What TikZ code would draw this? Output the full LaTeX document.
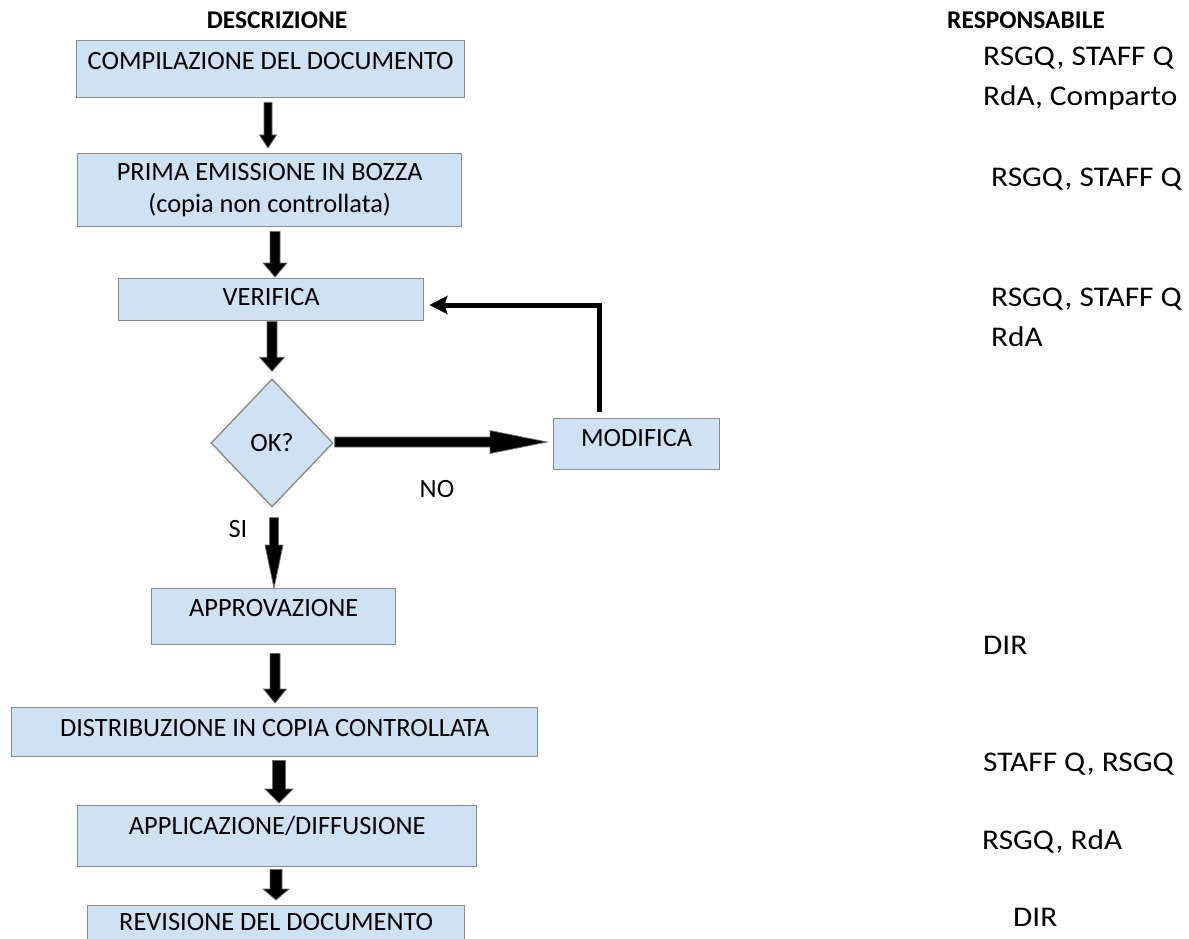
\documentclass[tikz,border=0pt]{standalone}
\usepackage{fontspec}
\setmainfont{Carlito}
\newfontfamily\respfont[FakeStretch=1.1]{Carlito}
\usetikzlibrary{shapes.geometric,arrows.meta,calc}
\definecolor{boxfill}{RGB}{207,226,243}
\definecolor{boxline}{RGB}{140,140,140}
\definecolor{arrline}{RGB}{110,110,110}
\tikzset{
  txt/.style={font=\fontsize{26.4}{32}\selectfont, inner sep=0pt},
  hdr/.style={font=\bfseries\fontsize{25.5}{30}\selectfont, inner sep=0pt},
  box/.style={draw=boxline, fill=boxfill, line width=1.4pt, inner xsep=0pt, inner ysep=0pt, txt, anchor=north west},
  decision/.style={diamond, draw=boxline, fill=boxfill, line width=1.4pt, inner sep=0pt, txt},
  blockarrow/.style={fill=black, draw=arrline, line width=0.8pt, line join=miter},
  loopline/.style={line width=5pt, line join=miter, -{Stealth[length=18pt,width=18pt,inset=3pt]}},
  resp/.style={font=\respfont\fontsize{28.5}{34}\selectfont, inner sep=0pt, anchor=base west},
}
% box: name, left, top, right, bottom, baseline, text
\newcommand\flowbox[7]{%
  \pgfmathsetmacro\bxw{#4-#2}%
  \pgfmathsetmacro\bxth{#6-#3}%
  \pgfmathsetmacro\bxtd{#5-#6}%
  \node[box, minimum width=\bxw pt, text height=\bxth pt, text depth=\bxtd pt] (#1) at (#2,#3) {#7};}
% vertical block arrow: from, to, x, gap top, gap bottom, shaft half, head half, head length
\newcommand\varrow[8]{%
  \filldraw[blockarrow] let \p1=(#1.south), \p2=(#2.north),
    \n1={\y1-(#4)*1pt}, \n2={\y2+(#5)*1pt}, \n3={\y2+(#5)*1pt+(#8)*1pt} in
    ({(#3-#6)*1pt},{\n1*1pt}) -- ({(#3+#6)*1pt},{\n1*1pt}) -- ({(#3+#6)*1pt},{\n3*1pt})
    -- ({(#3+#7)*1pt},{\n3*1pt}) -- ({(#3)*1pt},{\n2*1pt}) -- ({(#3-#7)*1pt},{\n3*1pt})
    -- ({(#3-#6)*1pt},{\n3*1pt}) -- cycle;}
\begin{document}
\begin{tikzpicture}[x=1pt,y=-1pt]
\path[use as bounding box] (0,0) rectangle (1189,939);
\clip (0,0) rectangle (1189,939);

% headers
\node[hdr, anchor=base] (hdesc) at (277,29) {DESCRIZIONE};
\node[hdr, anchor=base west] (hresp) at (947,29) {RESPONSABILE};

% boxes
\flowbox{comp}{76}{40}{464}{97}{69}{COMPILAZIONE DEL DOCUMENTO}
\node[box, anchor=north west, minimum width=384pt, minimum height=73pt, align=center] (prima) at (77,153)
  {PRIMA EMISSIONE IN BOZZA\\(copia non controllata)};
\flowbox{verif}{118}{278}{423}{320}{305}{VERIFICA}
\node[decision, minimum width=122pt, minimum height=128pt] (ok) at (272,443) {OK?};
\flowbox{modif}{553}{418}{719}{469}{446}{MODIFICA}
\flowbox{approv}{151}{588}{395}{644}{616}{APPROVAZIONE}
\flowbox{distr}{11}{707}{537}{756}{736}{DISTRIBUZIONE IN COPIA CONTROLLATA}
\flowbox{applic}{77}{805}{476}{866}{834}{APPLICAZIONE/DIFFUSIONE}
\flowbox{revis}{87}{905}{464}{960}{930}{REVISIONE DEL DOCUMENTO}

% vertical arrows
\varrow{comp}{prima}{268}{4}{5}{4}{8.5}{13}
\varrow{prima}{verif}{275}{4}{1}{5}{12}{14}
\varrow{verif}{ok}{272}{0}{7}{5}{12.5}{14}
\varrow{ok}{approv}{274}{10}{0}{4.5}{9}{43}
\varrow{approv}{distr}{275}{8}{4}{5}{11.5}{14}
\varrow{distr}{applic}{279}{3}{2}{6.5}{14}{14}
\varrow{applic}{revis}{276}{2}{5}{6}{13}{11}

% NO arrow
\filldraw[blockarrow] let \p1=(ok.east), \p2=(modif.west),
  \n1={\x1+1pt}, \n2={\x2-6pt}, \n3={\x2-6pt-57pt} in
  ({\n1*1pt},-437pt) -- ({\n3*1pt},-437pt) -- ({\n3*1pt},-430.5pt) -- ({\n2*1pt},-442pt)
  -- ({\n3*1pt},-453.5pt) -- ({\n3*1pt},-447pt) -- ({\n1*1pt},-447pt) -- cycle;

% feedback loop
\coordinate (fb) at (599,305);
\draw[loopline] (modif.north -| fb) ++(0,-6) -- (fb) -- ([xshift=5pt]verif.east |- fb);

% labels
\node[txt, anchor=base] (lno) at (437,497) {NO};
\node[txt, anchor=base] (lsi) at (238,537) {SI};

% responsabili
\node[resp] (r1) at (983,66) {RSGQ, STAFF Q};
\node[resp] (r1b) at (983,106) {RdA, Comparto};
\node[resp] (r2) at (991,186) {RSGQ, STAFF Q};
\node[resp] (r3) at (991,306) {RSGQ, STAFF Q};
\node[resp] (r3b) at (991,346) {RdA};
\node[resp] (r4) at (983,654) {DIR};
\node[resp] (r5) at (983,771) {STAFF Q, RSGQ};
\node[resp] (r6) at (982,849) {RSGQ, RdA};
\node[resp] (r7) at (1013,926) {DIR};
\end{tikzpicture}
\end{document}
